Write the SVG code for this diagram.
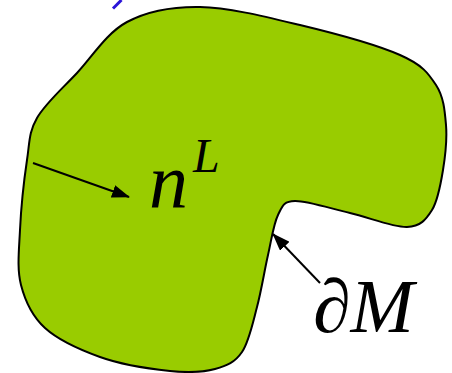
<svg xmlns="http://www.w3.org/2000/svg" width="452" height="373" viewBox="0 0 452 373">
<style>
.lbl{font-family:"Liberation Serif","Times New Roman",serif;fill:#000}
.conn{stroke:#000;stroke-width:2;fill:none}
</style>
<defs>
<marker id="ah" markerWidth="18" markerHeight="13" refX="17" refY="6.5" orient="auto" markerUnits="userSpaceOnUse">
<path d="M0,0 L18,6.5 L0,13 Z" fill="#000"/>
</marker>
</defs>
<rect width="452" height="373" fill="#fff"/>
<path d="M121.5,0 L113,8.5" stroke="#2a14d8" stroke-width="3" fill="none"/>
<g id="region">
<path d="M200,7 C228.8,7.5 266.7,17 300,25 C333.3,33 377.3,45 400,55 C422.7,65 428.3,73.3 436,85 C443.7,96.7 444.8,110.8 446,125 C447.2,139.2 445.3,155.8 443,170 C440.7,184.2 438,200.5 432,210 C426,219.5 420.7,226.5 407,227 C393.3,227.5 368.7,217.3 350,213 C331.3,208.7 307,200.7 295,201 C283,201.3 282.5,206 278,215 C273.5,224 271.5,239.7 268,255 C264.5,270.3 261.3,290.8 257,307 C252.7,323.2 249,341.7 242,352 C235,362.3 227,365.8 215,369 C203,372.2 189.2,373 170,371 C150.8,369 120.8,364.5 100,357 C79.2,349.5 58.2,340 45,328 C31.8,316 25.2,301.3 21,285 C16.8,268.7 19,250.8 20,230 C21,209.2 24.2,178.7 27,160 C29.8,141.3 28.7,132.5 37,118 C45.3,103.5 62,89 77,73 C92,57 106.5,33 127,22 C147.5,11 171.2,6.5 200,7 Z" fill="#99cc00" stroke="#000" stroke-width="2"/>
</g>
<g id="connectors">
<line class="conn" x1="33" y1="163" x2="129" y2="197" marker-end="url(#ah)"/>
<line class="conn" x1="320" y1="283" x2="273" y2="234" marker-end="url(#ah)"/>
</g>
<g id="label-nL">
<text class="lbl" x="149" y="208" font-size="78" font-style="italic">n</text>
<text class="lbl" x="193" y="172" font-size="48" font-style="italic">L</text>
</g>
<g id="label-dM">
<text class="lbl" x="313" y="332" font-size="76"><tspan>∂</tspan><tspan font-style="italic">M</tspan></text>
</g>
</svg>
